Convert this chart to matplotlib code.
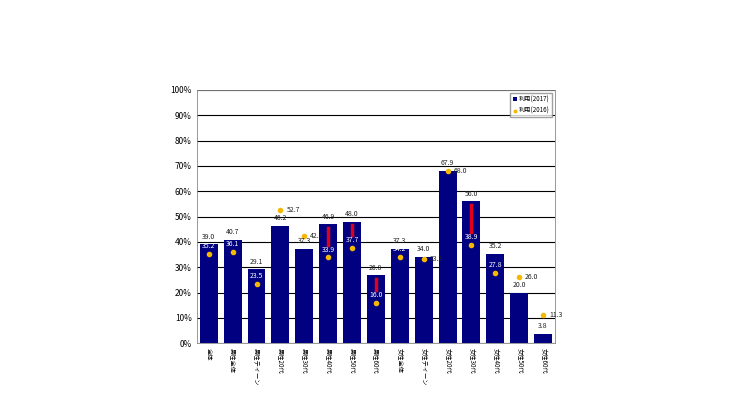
import matplotlib
matplotlib.use("Agg")
import matplotlib.pyplot as plt
import numpy as np

plt.rcParams['font.family'] = ['Noto Sans CJK JP', 'DejaVu Sans']

categories = ["全体", "男性全体", "男性ティーン", "男性20代", "男性30代", "男性40代", "男性50代", "男性60代",
              "女性全体", "女性ティーン", "女性20代", "女性30代", "女性40代", "女性50代", "女性60代"]
vals_2017 = [39.0, 40.7, 29.1, 46.2, 37.3, 46.9, 48.0, 26.8, 37.3, 34.0, 67.9, 56.0, 35.2, 20.0, 3.8]
vals_2016 = [35.2, 36.1, 23.5, 52.7, 42.3, 33.9, 37.7, 16.0, 34.2, 33.3, 68.0, 38.9, 27.8, 26.0, 11.3]
red_idx = [5, 6, 7, 11]

fig = plt.figure(figsize=(7.4, 4.16), dpi=100)
ax = fig.add_axes([0.266, 0.175, 0.484, 0.609])
x = np.arange(len(categories))
b1 = ax.bar(x, vals_2017, width=0.75, color='#000080', zorder=2, label='利用(2017)')
s1 = ax.scatter(x, vals_2016, s=9, color='#F5B800', zorder=4, label='利用(2016)')
for i in red_idx:
    ax.plot([i, i], [vals_2016[i] + 5, vals_2017[i] - 1.5], color='#E00020', lw=2.5, zorder=3)
for i, (a, b) in enumerate(zip(vals_2017, vals_2016)):
    ax.text(i, a + 1.5, f"{a:.1f}", ha='center', va='bottom', fontsize=5, color='#222222', zorder=5)
    if a - b > 2:
        ax.text(i, b + 1.5, f"{b:.1f}", ha='center', va='bottom', fontsize=5, color='white', zorder=5)
    else:
        ax.text(i + 0.25, b, f"{b:.1f}", ha='left', va='center', fontsize=5, color='#222222', zorder=5)
ax.set_ylim(0, 100)
ax.set_xlim(-0.5, len(categories) - 0.5)
ax.set_yticks(np.arange(0, 101, 10))
ax.set_yticklabels([f"{v}%" for v in range(0, 101, 10)], fontsize=6)
ax.yaxis.grid(True, color='black', lw=0.8, zorder=0)
ax.set_xticks(x)
ax.set_xticklabels(categories, rotation=-90, fontsize=4.5, va='top')
ax.tick_params(length=0)
for s in ax.spines.values():
    s.set_color('#888888'); s.set_linewidth(0.6)
ax.legend(handles=[b1, s1], loc='upper right', fontsize=4.5, frameon=True, edgecolor='#888888', fancybox=False,
          handlelength=0.6, handletextpad=0.3, markerscale=0.6)
fig.savefig('out.png', dpi=100)
